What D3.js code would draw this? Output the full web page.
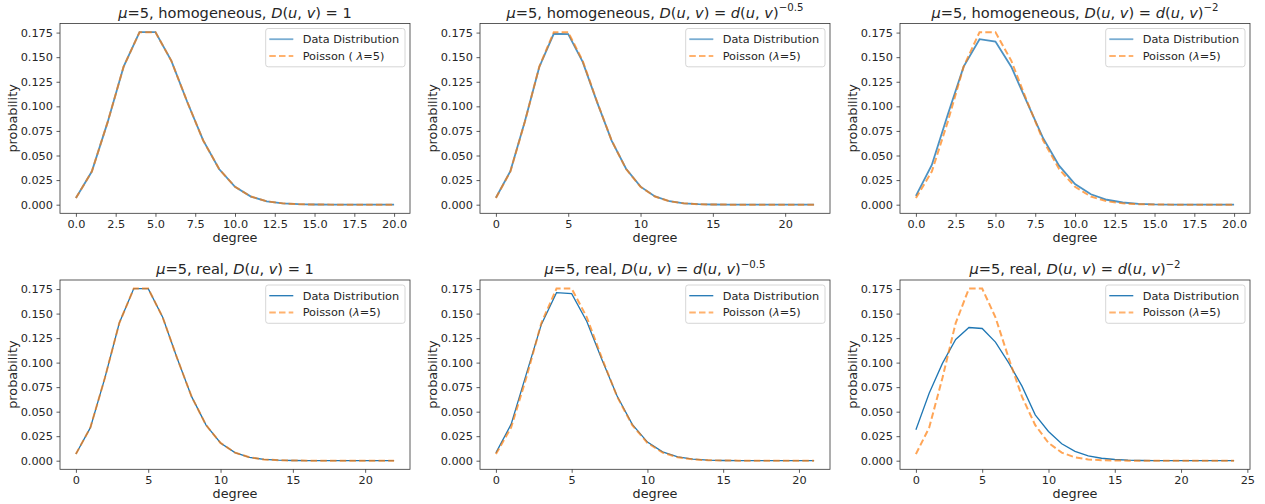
<!DOCTYPE html>
<html><head><meta charset="utf-8">
<script src="https://cdn.jsdelivr.net/npm/d3@7"></script>
<style>
body{margin:0;background:#fff;}
text{font-family:"DejaVu Sans",sans-serif;fill:#262626;}
</style></head>
<body><svg id="c" width="1265" height="504"></svg>
<script>
// Poisson(λ=5) reference pmf, degree 0..24
const poisson = [0.006738,0.033690,0.084224,0.140374,0.175467,0.175467,0.146223,0.104445,0.065278,0.036266,0.018133,0.008242,0.003434,0.001321,0.000472,0.000157,0.000049,0.000014,0.000004,0.000001,0.0000003,0.0000001,0,0,0];
// Data distributions
const homogConst = [0.0068,0.0337,0.0842,0.1404,0.1754,0.1755,0.1462,0.1044,0.0653,0.0363,0.0181,0.0082,0.0034,0.0013,0.0005,0.0002,0.00005,0.00001,0,0,0];
const homogPow05 = [0.0070,0.0340,0.0845,0.1400,0.1738,0.1735,0.1452,0.1040,0.0652,0.0365,0.0183,0.0084,0.0035,0.0014,0.0005,0.0002,0.0001,0,0,0,0,0,0];
const homogPow2 = [0.0089,0.0404,0.0915,0.1404,0.1683,0.1659,0.1400,0.1035,0.0675,0.0397,0.0210,0.0106,0.0050,0.0022,0.0009,0.0003,0.0001,0.00004,0.00001,0,0];
const realConst = [0.0068,0.0337,0.0842,0.1404,0.1755,0.1754,0.1462,0.1044,0.0653,0.0363,0.0181,0.0082,0.0034,0.0013,0.0005,0.0002,0.00005,0.00001,0,0,0,0,0];
const realPow05 = [0.0080,0.0370,0.0880,0.1390,0.1713,0.1703,0.1420,0.1030,0.0660,0.0370,0.0190,0.0090,0.0040,0.0016,0.0006,0.0002,0.0001,0,0,0,0,0];
const realPow2 = [0.0315,0.0688,0.0992,0.1236,0.1358,0.1348,0.1209,0.0998,0.0760,0.0467,0.0298,0.0173,0.0095,0.0050,0.0025,0.0012,0.0005,0.0002,0.0001,0,0,0,0,0,0];
const yTicks = [0,0.025,0.05,0.075,0.1,0.125,0.15,0.175];
const xTicksDec = [0,2.5,5,7.5,10,12.5,15,17.5,20];
const xTicks20 = [0,5,10,15,20];
const xTicks25 = [0,5,10,15,20,25];
const seriesNames = ["Data Distribution","Poisson"];

const panels = [
 {data:homogConst, ticks:xTicksDec, fmt:d3.format(".1f"), kind:"homogeneous", exp:null, space:true},
 {data:homogPow05, ticks:xTicks20, fmt:d3.format("d"), kind:"homogeneous", exp:"\u22120.5", space:false},
 {data:homogPow2, ticks:xTicksDec, fmt:d3.format(".1f"), kind:"homogeneous", exp:"\u22122", space:false},
 {data:realConst, ticks:xTicks20, fmt:d3.format("d"), kind:"real", exp:null, space:false},
 {data:realPow05, ticks:xTicks20, fmt:d3.format("d"), kind:"real", exp:"\u22120.5", space:false},
 {data:realPow2, ticks:xTicks25, fmt:d3.format("d"), kind:"real", exp:"\u22122", space:false}
];

const svg = d3.select("#c");
const colX = [60,480,900], W = 350;
const rowY = [[23.5,213.3],[280,469.3]];
const blue = "#1f77b4", orange = "#ff7f0e";

panels.forEach((p,i)=>{
  const col = i%3, row = Math.floor(i/3);
  const x0 = colX[col], top = rowY[row][0], bot = rowY[row][1];
  const n = p.data.length-1;
  const pad = n*0.05;
  const x = d3.scaleLinear().domain([-pad, n+pad]).range([x0, x0+W]);
  const ymax = 0.175467;
  const y = d3.scaleLinear().domain([-ymax*0.05, ymax*1.05]).range([bot, top]);
  const g = svg.append("g");

  // axes
  const xa = g.append("g").attr("transform",`translate(0,${bot})`)
    .call(d3.axisBottom(x).tickValues(p.ticks).tickFormat(p.fmt).tickSize(3.5).tickPadding(3.5));
  const ya = g.append("g").attr("transform",`translate(${x0},0)`)
    .call(d3.axisLeft(y).tickValues(yTicks).tickFormat(d3.format(".3f")).tickSize(3.5).tickPadding(3.5));
  [xa,ya].forEach(a=>{
    a.select(".domain").remove();
    a.selectAll("line").attr("stroke","#333").attr("stroke-width",0.8);
    a.selectAll("text").style("font-family","DejaVu Sans").style("font-size","11.3px").attr("fill","#262626");
  });
  g.append("rect").attr("x",x0).attr("y",top).attr("width",W).attr("height",bot-top)
    .attr("fill","none").attr("stroke","#333").attr("stroke-width",0.8);

  // lines
  const line = d3.line().x((d,k)=>x(k)).y(d=>y(d));
  const pois = poisson.slice(0, p.data.length);
  const topRow = row===0;
  g.append("path").datum(p.data).attr("d",line).attr("fill","none")
    .attr("stroke",blue).attr("stroke-width",topRow?1.8:1.3).attr("stroke-opacity",topRow?0.8:1);
  g.append("path").datum(pois).attr("d",line).attr("fill","none")
    .attr("stroke",orange).attr("stroke-width",2).attr("stroke-opacity",0.7).attr("stroke-dasharray","6.5,3.2");

  // title
  const t = g.append("text").attr("x",x0+W/2).attr("y",top-6).attr("text-anchor","middle").style("font-size","14.6px");
  const it = s=>t.append("tspan").style("font-style","italic").text(s);
  const rm = s=>t.append("tspan").text(s);
  it("\u03bc"); rm("=5, "+p.kind+", "); it("D"); rm("("); it("u"); rm(", "); it("v"); rm(") = ");
  if(p.exp===null){ rm("1"); }
  else { it("d"); rm("("); it("u"); rm(", "); it("v"); rm(")");
    t.append("tspan").attr("dy",-6.5).style("font-size","10.2px").text(p.exp); }

  // axis labels
  g.append("text").attr("x",x0+W/2).attr("y",bot+28.5).attr("text-anchor","middle").style("font-size","12.8px").text("degree");
  g.append("text").attr("transform",`translate(${x0-43},${(top+bot)/2}) rotate(-90)`).attr("text-anchor","middle").style("font-size","12.8px").text("probability");

  // legend
  const lx = x0+W-144.3, ly = top+5, lw = 139.3, lh = 38.3;
  g.append("rect").attr("x",lx).attr("y",ly).attr("width",lw).attr("height",lh).attr("rx",2.5)
    .attr("fill","white").attr("fill-opacity",0.8).attr("stroke","#ccc").attr("stroke-width",0.8);
  const r1 = ly+10.7, r2 = ly+27.4;
  g.append("line").attr("x1",lx+3.6).attr("x2",lx+27.6).attr("y1",r1).attr("y2",r1)
    .attr("stroke",blue).attr("stroke-width",topRow?1.8:1.3).attr("stroke-opacity",topRow?0.6:1);
  g.append("line").attr("x1",lx+3.6).attr("x2",lx+27.6).attr("y1",r2).attr("y2",r2)
    .attr("stroke",orange).attr("stroke-width",2).attr("stroke-opacity",0.6).attr("stroke-dasharray","6.5,3.2");
  g.append("text").attr("x",lx+37).attr("y",r1+4).style("font-size","11.3px").text(seriesNames[0]);
  const pt = g.append("text").attr("x",lx+37).attr("y",r2+4).style("font-size","11.3px");
  pt.append("tspan").text(seriesNames[1]+(p.space?" ( ":" ("));
  pt.append("tspan").style("font-style","italic").text("\u03bb");
  pt.append("tspan").text("=5)");
});
</script></body></html>
